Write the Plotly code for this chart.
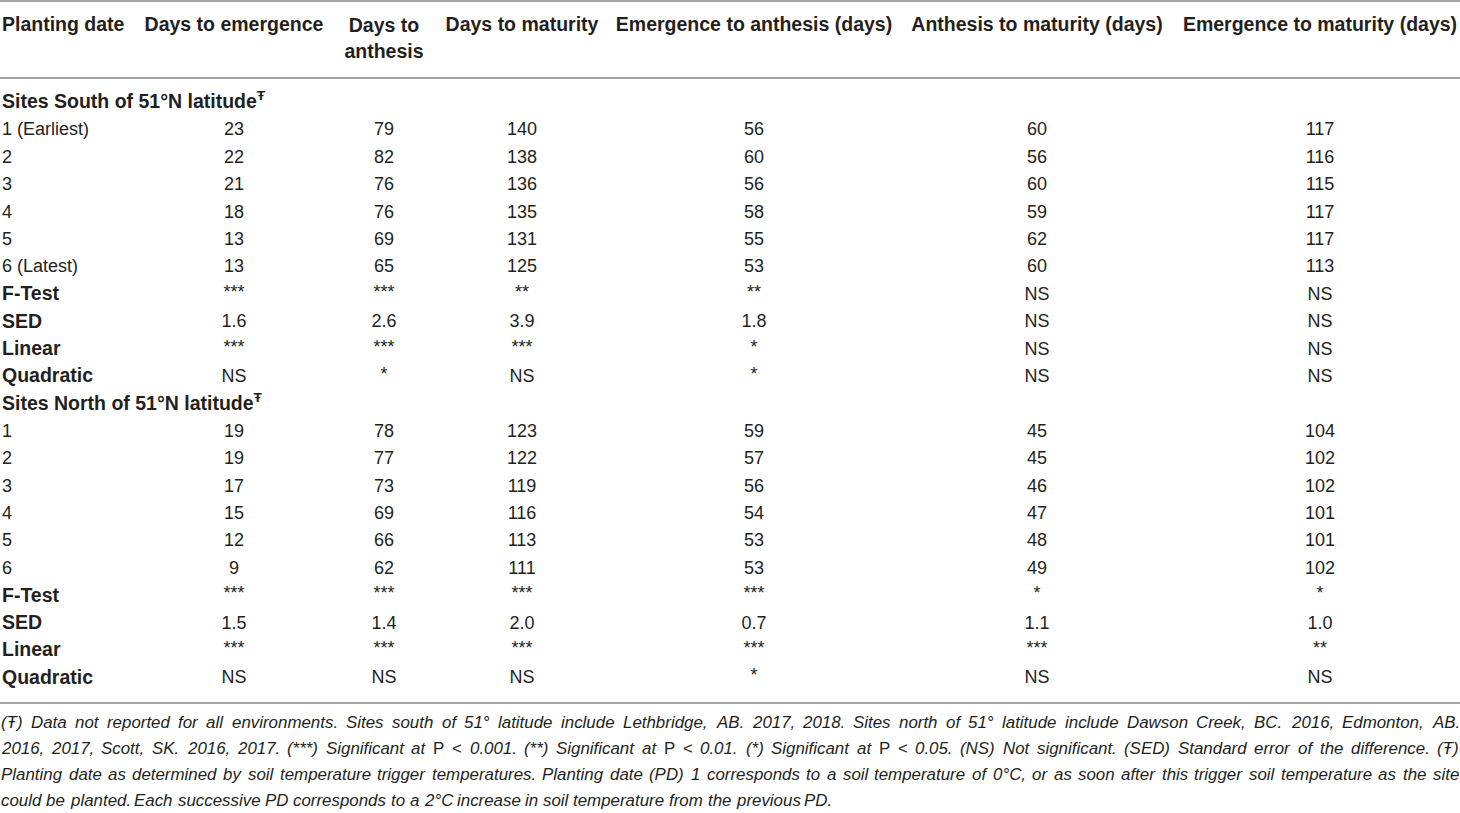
import plotly.graph_objects as go

# table content
headers = ["Planting date", "Days to emergence", "Days to<br>anthesis", "Days to maturity",
           "Emergence to anthesis (days)", "Anthesis to maturity (days)", "Emergence to maturity (days)"]
sections = ["Sites South of 51°N latitude<sup>Ŧ</sup>", "Sites North of 51°N latitude<sup>Ŧ</sup>"]
labels_south = ["1 (Earliest)", "2", "3", "4", "5", "6 (Latest)"]
labels_north = ["1", "2", "3", "4", "5", "6"]
stat_labels = ["F-Test", "SED", "Linear", "Quadratic"]

emergence = ["23", "22", "21", "18", "13", "13", "***", "1.6", "***", "NS",
             "19", "19", "17", "15", "12", "9", "***", "1.5", "***", "NS"]
anthesis = ["79", "82", "76", "76", "69", "65", "***", "2.6", "***", "*",
            "78", "77", "73", "69", "66", "62", "***", "1.4", "***", "NS"]
maturity = ["140", "138", "136", "135", "131", "125", "**", "3.9", "***", "NS",
            "123", "122", "119", "116", "113", "111", "***", "2.0", "***", "NS"]
emerg_anth = ["56", "60", "56", "58", "55", "53", "**", "1.8", "*", "*",
              "59", "57", "56", "54", "53", "53", "***", "0.7", "***", "*"]
anth_mat = ["60", "56", "60", "59", "62", "60", "NS", "NS", "NS", "NS",
            "45", "45", "46", "47", "48", "49", "*", "1.1", "***", "NS"]
emerg_mat = ["117", "116", "115", "117", "117", "113", "NS", "NS", "NS", "NS",
             "104", "102", "102", "101", "101", "102", "*", "1.0", "**", "NS"]

# footnote lines as printed (justified except the last one); P and < are upright
footnote = [
    "(Ŧ) Data not reported for all environments. Sites south of 51° latitude include Lethbridge, AB. 2017, 2018. "
    "Sites north of 51° latitude include Dawson Creek, BC. 2016, Edmonton, AB.",
    "2016, 2017, Scott, SK. 2016, 2017. (***) Significant at P < 0.001. (**) Significant at P < "
    "0.01. (*) Significant at P < 0.05. (NS) Not significant. (SED) Standard error of the difference. (Ŧ)",
    "Planting date as determined by soil temperature trigger temperatures. Planting date (PD) 1 corresponds to a "
    "soil temperature of 0°C, or as soon after this trigger soil temperature as the site",
    "could be planted. Each successive PD corresponds to a 2°C increase in soil temperature from the previous PD.",
]
upright = {"P", "<"}

# layout (pixel coordinates)
W, H = 1460, 813
col_x = [2, 234, 384, 522, 754, 1037, 1320]
row0, row_step = 103.5, 27.4
ink = "#231f20"
rule = "#a3a3a3"
body_font = "Liberation Sans, Arial, sans-serif"
note_size = 16.9
note_right = 1458

# Helvetica/Arial advance widths (1/1000 em) for width estimates when justifying
_w = {" ": 278, "(": 333, ")": 333, "*": 389, ",": 278, "-": 333, ".": 278, ":": 278, ";": 278,
      "<": 584, "°": 400, "Ŧ": 611}
_w.update({d: 556 for d in "0123456789"})
_w.update(dict(zip("ABCDEFGHIJKLMNOPQRSTUVWXYZ",
                   [667, 667, 722, 722, 667, 611, 778, 722, 278, 500, 667, 556, 833,
                    722, 778, 667, 778, 722, 667, 611, 722, 667, 944, 667, 667, 611])))
_w.update(dict(zip("abcdefghijklmnopqrstuvwxyz",
                   [556, 556, 500, 556, 556, 278, 556, 556, 222, 222, 500, 222, 833,
                    556, 556, 556, 556, 333, 500, 278, 556, 500, 722, 500, 500, 500])))


def text_width(s, size):
    return sum(_w.get(c, 556) for c in s) * size / 1000.0


def word_markup(word):
    return word if word in upright else "<i>" + word + "</i>"


value_cols = [emergence, anthesis, maturity, emerg_anth, anth_mat, emerg_mat]

# assemble rows
row_kind = []   # (label, is_bold, data index or None)
k = 0
for sec, labels in zip(sections, [labels_south, labels_north]):
    row_kind.append((sec, True, None))
    for lab in labels + stat_labels:
        row_kind.append((lab, lab in stat_labels, k))
        k += 1

row_y = [row0 + i * row_step for i in range(len(row_kind))]

fig = go.Figure()

# header
fig.add_trace(go.Scatter(
    x=[col_x[0]], y=[26], mode="text", text=["<b>" + headers[0] + "</b>"],
    textposition="middle right", textfont=dict(family=body_font, size=19.5, color=ink),
    hoverinfo="skip", showlegend=False))
fig.add_trace(go.Scatter(
    x=col_x[1:], y=[26, 40, 26, 26, 26, 26], mode="text",
    text=["<b>" + h + "</b>" for h in headers[1:]],
    textposition="middle center", textfont=dict(family=body_font, size=19.5, color=ink),
    hoverinfo="skip", showlegend=False))

# first column labels
fig.add_trace(go.Scatter(
    x=[col_x[0]] * len(row_kind), y=row_y, mode="text",
    text=["<b>" + lab + "</b>" if bold else lab for lab, bold, _ in row_kind],
    textposition="middle right",
    textfont=dict(family=body_font, size=[19.5 if b else 18 for _, b, _ in row_kind], color=ink),
    hoverinfo="skip", showlegend=False))

# value cells
for cx, vals in zip(col_x[1:], value_cols):
    xs, ys, ts, ss = [], [], [], []
    for (lab, bold, idx), y in zip(row_kind, row_y):
        if idx is None:
            continue
        v = vals[idx]
        star = set(v) == {"*"}
        xs.append(cx)
        ys.append(y - 2 if star else y)
        ts.append(v)
        ss.append(18 if star else 18)
    fig.add_trace(go.Scatter(
        x=xs, y=ys, mode="text", text=ts, textposition="middle center",
        textfont=dict(family=body_font, size=ss, color=ink),
        hoverinfo="skip", showlegend=False))

# rules
for y in [1, 78, 703]:
    fig.add_shape(type="line", x0=0, x1=W, y0=y, y1=y, line=dict(color=rule, width=2))

# footnote, justified word by word
for i, line in enumerate(footnote):
    y = 722 + i * 26
    words = line.split(" ")
    last = i == len(footnote) - 1
    widths = [text_width(w, note_size) for w in words]
    space = text_width(" ", note_size)
    if last:
        gap = space
    else:
        gap = (note_right - sum(widths)) / (len(words) - 1)
    x = 0.0
    for w, wd in zip(words, widths):
        fig.add_annotation(x=x, y=y, xref="x", yref="y", text=word_markup(w), showarrow=False,
                           xanchor="left", yanchor="middle", borderpad=0,
                           font=dict(family=body_font, size=note_size, color=ink))
        x += wd + gap

fig.update_layout(
    width=W, height=H, margin=dict(l=0, r=0, t=0, b=0),
    paper_bgcolor="white", plot_bgcolor="white",
    xaxis=dict(range=[0, W], visible=False, fixedrange=True),
    yaxis=dict(range=[H, 0], visible=False, fixedrange=True),
)

fig.write_html("out.html", config={"displayModeBar": False},
               post_script="document.body.style.margin='0';")
